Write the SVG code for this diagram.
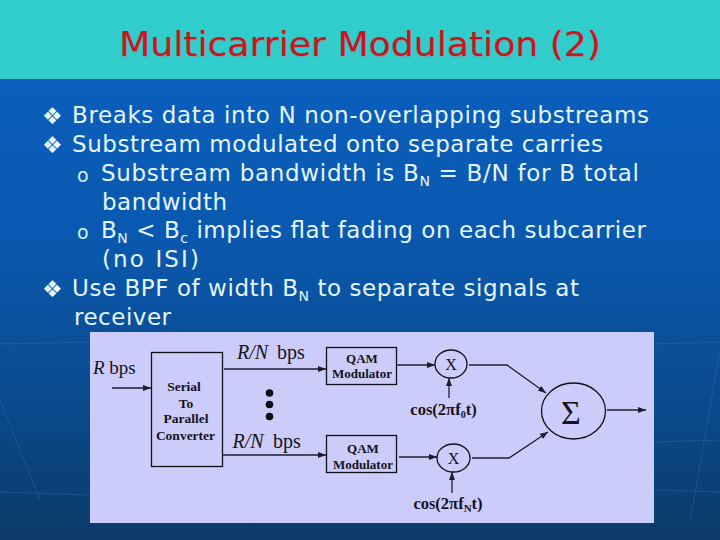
<svg xmlns="http://www.w3.org/2000/svg" width="720" height="540" viewBox="0 0 720 540">
<defs>
<linearGradient id="bg" x1="0" y1="0" x2="0" y2="1"><stop offset="0" stop-color="#0a62c4"/><stop offset="0.45" stop-color="#0a58ae"/><stop offset="0.75" stop-color="#0a4a8c"/><stop offset="1" stop-color="#0b3a66"/></linearGradient>
<marker id="ah" viewBox="0 0 8 6" refX="8" refY="3" markerWidth="8" markerHeight="6" markerUnits="userSpaceOnUse" orient="auto"><path d="M0 0L8 3L0 6Z" fill="#1c1c2c"/></marker>
<style>
.title{font-family:"DejaVu Sans",Verdana,sans-serif;font-size:34px;fill:#c8161c}
.shadow{font-family:"DejaVu Sans",Verdana,sans-serif;font-size:34px;fill:#6fa0a4}
.b{font-family:"DejaVu Sans",Verdana,sans-serif;font-size:23px;fill:#e4f6fc}
.sub{font-size:14px}
.bul{font-family:"DejaVu Sans",sans-serif;font-size:23px;fill:#eafaff}
.bulo{font-family:"DejaVu Sans",sans-serif;font-size:19px;fill:#d8f0fa}
.line{fill:none;stroke:#1c1c2c;stroke-width:1.3}
.arr{fill:none;stroke:#1c1c2c;stroke-width:1.3;marker-end:url(#ah)}
.box{fill:#ccccfa;stroke:#10101c;stroke-width:1.3}
.lab{font-family:"Liberation Serif",serif;font-weight:bold;fill:#141420;text-anchor:middle}
.rn{font-family:"Liberation Serif",serif;font-size:20px;fill:#141420}
.sym{font-family:"Liberation Serif",serif;fill:#141420;text-anchor:middle}
</style>
</defs>
<rect width="720" height="540" fill="url(#bg)"/>
<g stroke="#3a78b8" stroke-width="1" fill="none" opacity="0.35">
<path d="M0 344L90 342M0 400L40 500M0 492L90 495M654 344L720 342M654 442L720 440M690 522L720 350M654 490L720 492"/>
</g>
<rect width="720" height="79" fill="#31cdcd"/>
<text class="shadow" x="361" y="56.500" textLength="482" lengthAdjust="spacingAndGlyphs" text-anchor="middle">Multicarrier Modulation (2)</text>
<text class="title" x="360" y="55.500" textLength="482" lengthAdjust="spacingAndGlyphs" text-anchor="middle">Multicarrier Modulation (2)</text>
<g id="bullets">
<text class="bul" x="42" y="124">❖</text>
<text class="bul" x="42" y="153">❖</text>
<text class="bulo" x="77" y="182">o</text>
<text class="bulo" x="77" y="239">o</text>
<text class="bul" x="42" y="297">❖</text>
<text class="b" x="72" y="123" textLength="577" lengthAdjust="spacing">Breaks data into N non-overlapping substreams</text>
<text class="b" x="72" y="152" textLength="531" lengthAdjust="spacing">Substream modulated onto separate carries</text>
<text class="b" x="101" y="181" textLength="538" lengthAdjust="spacing">Substream bandwidth is B<tspan class="sub" dy="5">N</tspan><tspan dy="-5"> = B/N for B total</tspan></text>
<text class="b" x="102" y="210" textLength="125" lengthAdjust="spacing">bandwidth</text>
<text class="b" x="101" y="238" textLength="545" lengthAdjust="spacing">B<tspan class="sub" dy="5">N</tspan><tspan dy="-5"> &lt; B</tspan><tspan class="sub" dy="5">c</tspan><tspan dy="-5"> implies flat fading on each subcarrier</tspan></text>
<text class="b" x="102" y="267" textLength="97" lengthAdjust="spacing">(no ISI)</text>
<text class="b" x="72" y="296" textLength="507" lengthAdjust="spacing">Use BPF of width B<tspan class="sub" dy="5">N</tspan><tspan dy="-5"> to separate signals at</tspan></text>
<text class="b" x="74" y="325" textLength="97" lengthAdjust="spacing">receiver</text>
</g>
<rect id="panel" x="90" y="332" width="564" height="191" fill="#ccccfa"/>
<g id="connectors">
<path class="arr" d="M112 388H151"/>
<path class="arr" d="M224 369H326"/>
<path class="arr" d="M223 455H326"/>
<path class="arr" d="M397 365H435"/>
<path class="arr" d="M399 457H437"/>
<path class="arr" d="M449 398V378"/>
<path class="arr" d="M452 493V472"/>
<path class="arr" d="M469 365H507L546 393"/>
<path class="arr" d="M472 458H509L548 432"/>
<path class="arr" d="M607 410H646"/>
</g>
<g id="converter"><rect class="box" x="151.500" y="352.500" width="71" height="114"/>
<text class="lab" font-size="13.500" x="184" y="391">Serial</text><text class="lab" font-size="13.500" x="186" y="408">To</text><text class="lab" font-size="13.500" x="186" y="423">Parallel</text><text class="lab" font-size="13.500" x="185.500" y="440">Converter</text></g>
<g id="qam1"><rect class="box" x="326.500" y="347.500" width="70" height="37"/><text class="lab" font-size="13" x="362" y="363">QAM</text><text class="lab" font-size="13" x="362" y="378">Modulator</text></g>
<g id="qam2"><rect class="box" x="326.500" y="435.500" width="70" height="37"/><text class="lab" font-size="13" x="363" y="453">QAM</text><text class="lab" font-size="13" x="363" y="469">Modulator</text></g>
<g id="mult1"><ellipse class="box" cx="451" cy="364" rx="16" ry="14" stroke-width="1"/><text class="sym" font-size="16" x="451" y="369.500">X</text></g>
<g id="multN"><ellipse class="box" cx="453.500" cy="458" rx="16.500" ry="14" stroke-width="1"/><text class="sym" font-size="16" x="453.500" y="463.500">X</text></g>
<g id="sum"><ellipse class="box" cx="573.500" cy="411" rx="32" ry="28" stroke-width="1"/><text class="sym" font-size="34" x="571" y="424">Σ</text></g>
<g id="labels">
<text font-family="Liberation Serif,serif" font-size="19" fill="#141420" x="93" y="374"><tspan font-style="italic">R</tspan> bps</text>
<text class="rn" x="237" y="359"><tspan font-style="italic">R/N</tspan>  <tspan x="277">bps</tspan></text>
<text class="rn" x="232.500" y="448"><tspan font-style="italic">R/N</tspan>  <tspan x="273">bps</tspan></text>
<text class="lab" font-size="16.500" x="443.500" y="415">cos(2πf<tspan font-size="10" dy="3">0</tspan><tspan dy="-3">t)</tspan></text>
<text class="lab" font-size="16.500" x="448" y="509">cos(2πf<tspan font-size="11" dy="3">N</tspan><tspan dy="-3">t)</tspan></text>
</g>
<g id="dots" fill="#0c0c14"><circle cx="269.500" cy="393" r="3.800"/><circle cx="269.500" cy="404.500" r="3.800"/><circle cx="269.500" cy="416.500" r="3.800"/></g>
</svg>
